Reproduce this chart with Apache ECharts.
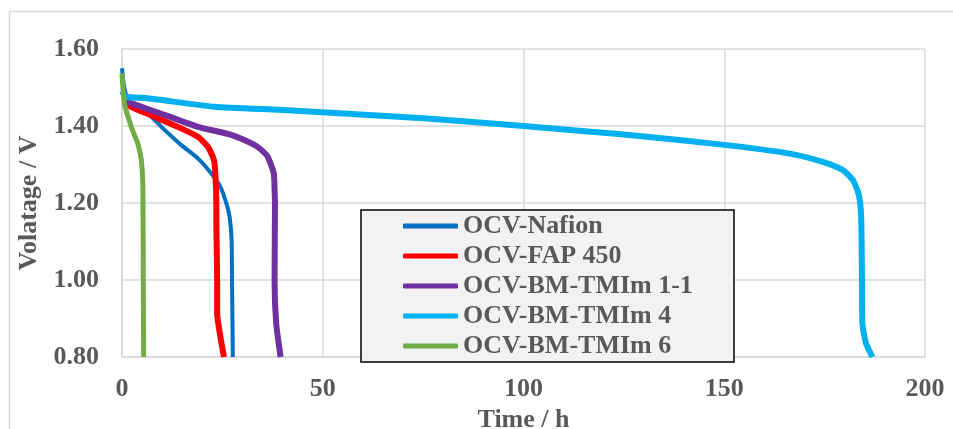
<!DOCTYPE html>
<html>
<head>
<meta charset="utf-8">
<script src="https://cdn.jsdelivr.net/npm/echarts@6/dist/echarts.min.js"></script>
<style>
  html, body { margin: 0; padding: 0; background: #fff; }
  #chart { width: 953px; height: 429px; }
</style>
</head>
<body>
<div id="chart"></div>
<script>
// [time h, voltage V]
const legendNames = ["OCV-Nafion", "OCV-FAP 450", "OCV-BM-TMIm 1-1", "OCV-BM-TMIm 4", "OCV-BM-TMIm 6"];
const xTicks = [0, 50, 100, 150, 200];
const yTicks = [0.8, 1.0, 1.2, 1.4, 1.6];

const nafion = [
  [0, 1.55], [0.6, 1.498], [1.9, 1.459], [6.4, 1.433], [10.6, 1.39], [14.7, 1.351],
  [18.9, 1.316], [22.2, 1.277], [24.5, 1.242], [26, 1.199], [26.8, 1.164],
  [27.3, 1.104], [27.4, 1.0], [27.5, 0.9], [27.6, 0.8]
];
const fap450 = [
  [0.5, 1.466], [1.9, 1.452], [8.1, 1.424], [14.7, 1.394], [18.9, 1.372], [21.4, 1.346],
  [22.9, 1.312], [23.3, 1.268], [23.5, 1.19], [23.5, 1.147], [23.7, 1.0],
  [23.7, 0.913], [24.5, 0.853], [25.4, 0.8]
];
const bmTmim11 = [
  [0.5, 1.47], [1.5, 1.462], [10.6, 1.429], [18.9, 1.398], [27.2, 1.377], [33, 1.351],
  [34.7, 1.338], [36.3, 1.32], [37.8, 1.277], [38.0, 1.234], [38.1, 1.199],
  [38.0, 1.0], [38.4, 0.888], [39.5, 0.8]
];
const bmTmim4 = [
  [0, 1.49], [1, 1.476], [6.4, 1.472], [23, 1.45], [39, 1.442], [50, 1.436],
  [75, 1.42], [100, 1.4], [116, 1.386], [130, 1.373], [150, 1.351], [166, 1.329],
  [174.5, 1.307], [179.5, 1.286], [182, 1.26], [183.5, 1.222], [184.1, 1.164],
  [184.3, 1.0], [184.4, 0.888], [185.3, 0.836], [186.9, 0.8]
];
const bmTmim6 = [
  [0, 1.537], [0.6, 1.459], [2.3, 1.398], [3.9, 1.355], [4.8, 1.312], [5.2, 1.242],
  [5.3, 1.0], [5.4, 0.8]
];

const seriesData = [nafion, fap450, bmTmim11, bmTmim4, bmTmim6];
const colors = ["#0070c0", "#ff0000", "#7030a0", "#00b0f0", "#70ad47"];
const widths = [4, 6, 6, 6, 5];

const font = "'Times New Roman', 'Liberation Serif', serif";
const textGray = "#595959";
const gridGray = "#d9d9d9";

const chart = echarts.init(document.getElementById("chart"), null, { renderer: "canvas" });

chart.setOption({
  animation: false,
  backgroundColor: "#fff",
  grid: { left: 122, top: 49, width: 803, height: 308, containLabel: false, outerBoundsMode: "none" },
  graphic: [
    { type: "rect", z: 0, silent: true, shape: { x: 9.5, y: 11.5, width: 960, height: 440 }, style: { fill: "none", stroke: gridGray, lineWidth: 1.5 } },
    { type: "rect", z: 5, silent: true, shape: { x: 361, y: 210, width: 373, height: 152 }, style: { fill: "#f2f2f2", stroke: "#000", lineWidth: 1.5 } }
  ],
  legend: {
    z: 10,
    orient: "vertical",
    left: 361,
    top: 210,
    padding: [1, 10, 1, 42],
    itemGap: 0,
    itemWidth: 55,
    itemHeight: 5,
    icon: "roundRect",
    data: legendNames,
    textStyle: { fontFamily: font, fontWeight: "bold", fontSize: 26, color: textGray, lineHeight: 30, padding: [0, 0, 0, 0] }
  },
  xAxis: {
    type: "value",
    min: xTicks[0],
    max: xTicks[xTicks.length - 1],
    interval: 50,
    name: "Time / h",
    nameLocation: "middle",
    nameGap: 43,
    nameTextStyle: { fontFamily: font, fontWeight: "bold", fontSize: 26, color: textGray },
    axisLine: { lineStyle: { color: gridGray, width: 1.5 } },
    axisTick: { show: false },
    axisLabel: { fontFamily: font, fontWeight: "bold", fontSize: 26, color: textGray, margin: 19 },
    splitLine: { show: true, lineStyle: { color: gridGray, width: 1.5 } }
  },
  yAxis: {
    type: "value",
    min: yTicks[0],
    max: yTicks[yTicks.length - 1],
    interval: 0.2,
    name: "Volatage / V",
    nameLocation: "middle",
    nameGap: 74,
    nameTextStyle: { fontFamily: font, fontWeight: "bold", fontSize: 26, color: textGray },
    axisLine: { show: true, lineStyle: { color: gridGray, width: 1.5 } },
    axisTick: { show: false },
    axisLabel: { fontFamily: font, fontWeight: "bold", fontSize: 26, color: textGray, margin: 23, formatter: (v) => v.toFixed(2) },
    splitLine: { show: true, lineStyle: { color: gridGray, width: 1.5 } }
  },
  series: seriesData.map((data, i) => ({
    name: legendNames[i],
    type: "line",
    data: data,
    showSymbol: false,
    smooth: 0.2,
    color: colors[i],
    lineStyle: { color: colors[i], width: widths[i] },
    itemStyle: { color: colors[i] }
  }))
});
</script>
</body>
</html>
